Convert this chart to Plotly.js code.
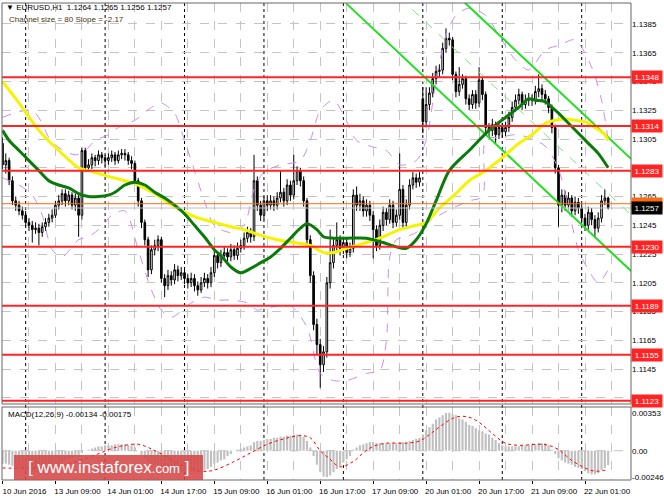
<!DOCTYPE html>
<html>
<head>
<meta charset="utf-8">
<script src="https://cdn.plot.ly/plotly-3.0.1.min.js"></script>
<style>
  html, body { margin: 0; padding: 0; background: #fff; }
  #chart { width: 664px; height: 498px; }
</style>
</head>
<body>
<div id="chart"></div>
<script>
// EURUSD H1, one entry per hourly bar: 10 Jun 17:00 .. 22 Jun 08:00
var opens = [
  1.1302,1.1287,1.1290,1.1276,1.1262,1.1259,1.1255,1.1252,1.1247,1.1245,
  1.1242,1.1243,1.1240,1.1244,1.1247,1.1250,1.1252,1.1259,1.1262,1.1267,
  1.1262,1.1266,1.1259,1.1264,1.1252,1.1297,1.1285,1.1287,1.1292,1.1290,
  1.1294,1.1292,1.1290,1.1292,1.1294,1.1290,1.1294,1.1295,1.1294,1.1290,
  1.1288,1.1276,1.1262,1.1247,1.1235,1.1214,1.1228,1.1231,1.1235,1.1208,
  1.1203,1.1210,1.1207,1.1214,1.1210,1.1212,1.1208,1.1205,1.1208,1.1203,
  1.1200,1.1205,1.1208,1.1205,1.1212,1.1224,1.1219,1.1224,1.1226,1.1223,
  1.1228,1.1224,1.1229,1.1231,1.1236,1.1240,1.1237,1.1276,1.1259,1.1252,
  1.1262,1.1259,1.1262,1.1259,1.1264,1.1268,1.1262,1.1273,1.1266,1.1276,
  1.1283,1.1276,1.1262,1.1235,1.1210,1.1176,1.1162,1.1148,1.1157,1.1205,
  1.1219,1.1231,1.1235,1.1229,1.1233,1.1226,1.1229,1.1266,1.1259,1.1262,
  1.1255,1.1259,1.1252,1.1242,1.1231,1.1245,1.1254,1.1249,1.1259,1.1247,
  1.1252,1.1270,1.1247,1.1259,1.1273,1.1278,1.1275,1.1333,1.1317,1.1329,
  1.1337,1.1347,1.1352,1.1353,1.1368,1.1375,1.1374,1.1350,1.1338,1.1343,
  1.1347,1.1333,1.1329,1.1336,1.1330,1.1346,1.1336,1.1313,1.1311,1.1315,
  1.1308,1.1313,1.1310,1.1313,1.1320,1.1327,1.1332,1.1336,1.1329,1.1332,
  1.1333,1.1332,1.1338,1.1340,1.1336,1.1333,1.1327,1.1313,1.1285,1.1259,
  1.1266,1.1259,1.1264,1.1255,1.1261,1.1257,1.1250,1.1245,1.1254,1.1249,
  1.1243,1.1250,1.1262,1.1264
];
var highs = [
  1.1306,1.1295,1.1292,1.1279,1.1265,1.1262,1.1258,1.1255,1.1250,1.1248,
  1.1247,1.1246,1.1247,1.1250,1.1253,1.1256,1.1262,1.1266,1.1270,1.1270,
  1.1269,1.1268,1.1267,1.1266,1.1299,1.1299,1.1291,1.1295,1.1294,1.1297,
  1.1296,1.1294,1.1295,1.1297,1.1296,1.1297,1.1298,1.1298,1.1296,1.1293,
  1.1290,1.1278,1.1264,1.1249,1.1237,1.1231,1.1235,1.1238,1.1237,1.1211,
  1.1214,1.1213,1.1218,1.1217,1.1216,1.1215,1.1211,1.1212,1.1211,1.1206,
  1.1209,1.1212,1.1211,1.1216,1.1228,1.1227,1.1228,1.1230,1.1229,1.1232,
  1.1231,1.1233,1.1235,1.1240,1.1244,1.1243,1.1294,1.1279,1.1262,1.1265,
  1.1266,1.1266,1.1265,1.1268,1.1283,1.1271,1.1277,1.1276,1.1294,1.1286,
  1.1285,1.1279,1.1264,1.1238,1.1213,1.1180,1.1166,1.1161,1.1209,1.1242,
  1.1236,1.1247,1.1238,1.1237,1.1236,1.1233,1.1270,1.1272,1.1267,1.1265,
  1.1263,1.1262,1.1255,1.1245,1.1249,1.1258,1.1257,1.1263,1.1262,1.1256,
  1.1295,1.1273,1.1263,1.1277,1.1282,1.1281,1.1282,1.1341,1.1341,1.1341,
  1.1351,1.1356,1.1357,1.1372,1.1382,1.1379,1.1376,1.1352,1.1355,1.1350,
  1.1349,1.1336,1.1339,1.1339,1.1355,1.1348,1.1338,1.1316,1.1319,1.1317,
  1.1316,1.1316,1.1317,1.1324,1.1331,1.1336,1.1340,1.1338,1.1336,1.1337,
  1.1336,1.1342,1.1350,1.1343,1.1339,1.1335,1.1329,1.1315,1.1287,1.1270,
  1.1269,1.1268,1.1266,1.1265,1.1264,1.1260,1.1253,1.1258,1.1257,1.1252,
  1.1254,1.1266,1.1270,1.1265
];
var lows = [
  1.1284,1.1281,1.1273,1.1259,1.1255,1.1252,1.1249,1.1244,1.1241,1.1233,
  1.1239,1.1231,1.1237,1.1241,1.1244,1.1247,1.1250,1.1256,1.1259,1.1258,
  1.1259,1.1256,1.1255,1.1237,1.1249,1.1282,1.1282,1.1284,1.1286,1.1287,
  1.1288,1.1286,1.1287,1.1289,1.1287,1.1288,1.1291,1.1290,1.1287,1.1284,
  1.1273,1.1258,1.1243,1.1231,1.1209,1.1211,1.1224,1.1227,1.1205,1.1195,
  1.1200,1.1203,1.1204,1.1206,1.1207,1.1204,1.1201,1.1202,1.1199,1.1196,
  1.1198,1.1202,1.1201,1.1202,1.1209,1.1215,1.1216,1.1221,1.1219,1.1220,
  1.1221,1.1221,1.1226,1.1228,1.1233,1.1233,1.1234,1.1255,1.1248,1.1249,
  1.1255,1.1256,1.1255,1.1256,1.1261,1.1258,1.1259,1.1262,1.1263,1.1273,
  1.1272,1.1258,1.1230,1.1205,1.1172,1.1155,1.1132,1.1143,1.1153,1.1201,
  1.1215,1.1226,1.1224,1.1225,1.1222,1.1223,1.1226,1.1255,1.1255,1.1251,
  1.1251,1.1248,1.1222,1.1227,1.1228,1.1241,1.1245,1.1246,1.1243,1.1244,
  1.1249,1.1243,1.1244,1.1256,1.1270,1.1271,1.1272,1.1309,1.1313,1.1325,
  1.1334,1.1343,1.1348,1.1350,1.1365,1.1370,1.1346,1.1334,1.1335,1.1340,
  1.1329,1.1325,1.1326,1.1326,1.1327,1.1332,1.1309,1.1306,1.1307,1.1302,
  1.1305,1.1306,1.1307,1.1310,1.1317,1.1324,1.1329,1.1325,1.1326,1.1328,
  1.1328,1.1329,1.1334,1.1332,1.1329,1.1323,1.1309,1.1281,1.1244,1.1254,
  1.1255,1.1256,1.1251,1.1252,1.1253,1.1246,1.1241,1.1242,1.1245,1.1237,
  1.1240,1.1247,1.1259,1.1256
];
var closes = [
  1.1287,1.1290,1.1276,1.1262,1.1259,1.1255,1.1252,1.1247,1.1245,1.1242,
  1.1243,1.1240,1.1244,1.1247,1.1250,1.1252,1.1259,1.1262,1.1267,1.1262,
  1.1266,1.1259,1.1264,1.1252,1.1297,1.1285,1.1287,1.1292,1.1290,1.1294,
  1.1292,1.1290,1.1292,1.1294,1.1290,1.1294,1.1295,1.1294,1.1290,1.1288,
  1.1276,1.1262,1.1247,1.1235,1.1214,1.1228,1.1231,1.1235,1.1208,1.1203,
  1.1210,1.1207,1.1214,1.1210,1.1212,1.1208,1.1205,1.1208,1.1203,1.1200,
  1.1205,1.1208,1.1205,1.1212,1.1224,1.1219,1.1224,1.1226,1.1223,1.1228,
  1.1224,1.1229,1.1231,1.1236,1.1240,1.1237,1.1276,1.1259,1.1252,1.1262,
  1.1259,1.1262,1.1259,1.1264,1.1268,1.1262,1.1273,1.1266,1.1276,1.1283,
  1.1276,1.1262,1.1235,1.1210,1.1176,1.1162,1.1148,1.1157,1.1205,1.1219,
  1.1231,1.1235,1.1229,1.1233,1.1226,1.1229,1.1266,1.1259,1.1262,1.1255,
  1.1259,1.1252,1.1242,1.1231,1.1245,1.1254,1.1249,1.1259,1.1247,1.1252,
  1.1270,1.1247,1.1259,1.1273,1.1278,1.1275,1.1278,1.1317,1.1329,1.1337,
  1.1347,1.1352,1.1353,1.1368,1.1375,1.1374,1.1350,1.1338,1.1343,1.1347,
  1.1333,1.1329,1.1336,1.1330,1.1346,1.1336,1.1313,1.1311,1.1315,1.1308,
  1.1313,1.1310,1.1313,1.1320,1.1327,1.1332,1.1336,1.1329,1.1332,1.1333,
  1.1332,1.1338,1.1340,1.1336,1.1333,1.1327,1.1313,1.1285,1.1259,1.1266,
  1.1259,1.1264,1.1255,1.1261,1.1257,1.1250,1.1245,1.1254,1.1249,1.1243,
  1.1250,1.1262,1.1264,1.1257
];

// MACD(12,26,9) main line, one per bar, and its signal read at fewer bars
var macdMain = [
  -0.0012,-0.0012,-0.0013,-0.0014,-0.0015,-0.0016,-0.0017,-0.0018,-0.0019,-0.0020,
  -0.0020,-0.0021,-0.0020,-0.0019,-0.0018,-0.0016,-0.0014,-0.0012,-0.0010,-0.0009,
  -0.0008,-0.0007,-0.0006,-0.0006,-0.0002,0.0000,0.0001,0.0002,0.0003,0.0004,
  0.0004,0.0005,0.0005,0.0005,0.0006,0.0006,0.0006,0.0006,0.0005,0.0005,
  0.0003,0.0000,-0.0004,-0.0007,-0.0011,-0.0012,-0.0013,-0.0013,-0.0016,-0.0018,
  -0.0019,-0.0020,-0.0020,-0.0020,-0.0020,-0.0020,-0.0020,-0.0020,-0.0020,-0.0020,
  -0.0019,-0.0018,-0.0017,-0.0015,-0.0012,-0.0011,-0.0009,-0.0008,-0.0005,-0.0003,
  0.0000,0.0001,0.0002,0.0003,0.0004,0.0005,0.0008,0.0009,0.0009,0.0010,
  0.0011,0.0011,0.0012,0.0012,0.0013,0.0013,0.0014,0.0014,0.0015,0.0015,
  0.0015,0.0013,0.0009,0.0003,-0.0005,-0.0013,-0.0020,-0.0024,-0.00246,-0.0023,
  -0.0020,-0.0017,-0.0014,-0.0011,-0.0008,-0.0005,0.0001,0.0003,0.0005,0.0006,
  0.0007,0.0008,0.0008,0.0007,0.0007,0.0007,0.0007,0.0007,0.0007,0.0007,
  0.0008,0.0008,0.0008,0.0009,0.0010,0.0011,0.0012,0.0015,0.0019,0.0022,
  0.0025,0.0029,0.0031,0.0033,0.0035,0.00353,0.0034,0.0033,0.0030,0.0029,
  0.0027,0.0024,0.0023,0.0021,0.0019,0.0018,0.0016,0.0015,0.0012,0.0010,
  0.0007,0.0005,0.0004,0.0004,0.0004,0.0004,0.0004,0.0005,0.0005,0.0005,
  0.0006,0.0006,0.0007,0.0007,0.0007,0.0005,0.0001,-0.0003,-0.0007,-0.0009,
  -0.0011,-0.0012,-0.0013,-0.0015,-0.0016,-0.0017,-0.0019,-0.0021,-0.0022,-0.0022,
  -0.0021,-0.0018,-0.0016,-0.00134
];
var signalBars = [0,10,20,28,33,37,41,44,48,54,60,64,70,75,80,85,90,93,96,99,102,106,109,112,116,122,126,129,132,136,139,142,145,148,152,156,162,165,168,172,176,179,183];
var signalVals = [-0.0016,-0.0016,-0.0012,-0.0004,0.0002,0.0005,0.0006,0.0003,-0.0003,-0.0013,-0.0019,-0.0018,-0.0010,-0.0002,0.0006,0.0011,0.0014,0.0012,0.0000,-0.0008,-0.0015,-0.0010,-0.0002,0.0004,0.0007,0.0007,0.0009,0.0015,0.0022,0.0030,0.0032,0.0030,0.0024,0.0016,0.0007,0.0005,0.0006,0.0005,0.0001,-0.0009,-0.0016,-0.0019,-0.00175];

// moving averages and bands, read at a subset of bars
var yellowBars = [0,5,11,17,23,26,32,37,40,46,52,58,64,69,73,78,83,88,93,97,100,104,110,115,120,125,128,132,137,141,146,151,156,160,164,167,170,173,176,179,182,183];
var yellowMA = [1.1345,1.1330,1.1311,1.1297,1.1285,1.1283,1.1279,1.1276,1.1274,1.1267,1.1258,1.1251,1.1247,1.1244,1.1242,1.1238,1.1235,1.1233,1.1231,1.1226,1.1226,1.1229,1.1233,1.1237,1.1242,1.1245,1.1247,1.1257,1.1267,1.1276,1.1283,1.1292,1.1302,1.1308,1.1316,1.1318,1.1319,1.1318,1.1317,1.1313,1.1308,1.1304];
var greenBars = [0,2,5,8,11,14,17,20,23,26,29,32,34,37,40,43,46,49,52,55,58,61,64,66,69,72,75,78,81,84,87,90,92,95,97,100,104,110,115,119,122,125,128,131,135,141,147,152,156,159,161,164,166,168,171,174,177,180,183];
var greenMA = [1.1311,1.1304,1.1297,1.1290,1.1283,1.1276,1.1273,1.1271,1.1267,1.1265,1.1265,1.1266,1.1268,1.1273,1.1275,1.1273,1.1268,1.1264,1.1259,1.1253,1.1245,1.1237,1.1228,1.1224,1.1216,1.1212,1.1215,1.1219,1.1223,1.1229,1.1236,1.1243,1.1246,1.1242,1.1237,1.1236,1.1236,1.1236,1.1233,1.1230,1.1229,1.1235,1.1246,1.1262,1.1283,1.1297,1.1311,1.1320,1.1327,1.1333,1.1332,1.1331,1.1327,1.1323,1.1316,1.1309,1.1302,1.1295,1.1285];
var upperBars = [0,5,9,12,14,17,22,25,28,32,35,40,45,48,52,54,57,61,64,69,73,76,79,84,90,93,96,100,103,107,111,116,120,125,128,131,134,137,141,146,150,155,159,164,168,173,178,181,183];
var upperBand = [1.1320,1.1324,1.1325,1.1316,1.1306,1.1299,1.1294,1.1297,1.1304,1.1308,1.1313,1.1318,1.1327,1.1330,1.1323,1.1311,1.1290,1.1262,1.1245,1.1240,1.1245,1.1270,1.1282,1.1287,1.1290,1.1304,1.1325,1.1332,1.1322,1.1304,1.1300,1.1297,1.1287,1.1290,1.1304,1.1346,1.1377,1.1391,1.1396,1.1391,1.1377,1.1360,1.1353,1.1367,1.1370,1.1374,1.1355,1.1332,1.1304];
var lowerBars = [0,5,9,12,15,18,23,26,30,33,37,41,45,48,51,57,61,65,69,74,77,79,87,92,96,100,104,110,114,116,117,119,122,125,128,132,137,141,145,146,150,155,159,164,168,172,174,177,180,183];
var lowerBand = [1.1278,1.1273,1.1266,1.1252,1.1228,1.1223,1.1235,1.1237,1.1244,1.1252,1.1255,1.1228,1.1200,1.1186,1.1181,1.1191,1.1195,1.1193,1.1193,1.1191,1.1186,1.1187,1.1189,1.1174,1.1142,1.1137,1.1137,1.1142,1.1144,1.1165,1.1223,1.1235,1.1237,1.1240,1.1246,1.1252,1.1258,1.1262,1.1265,1.1305,1.1306,1.1308,1.1306,1.1300,1.1284,1.1246,1.1228,1.1214,1.1205,1.1214];

// regression channel over the last 80 bars, extended to the right edge
var channelBars = [104, 190];
var channelUpper = [1.1477, 1.1291];
var channelMid = [1.1438, 1.1252];
var channelLower = [1.1399, 1.1213];

var levels = [1.1348, 1.1314, 1.1283, 1.1230, 1.1189, 1.1155, 1.1123];
var pivotLevel = 1.1260;
var bidLevel = 1.1257;

var tickBars = [0,16,32,48,64,80,96,112,128,144,160,176];
var tickLabels = ['10 Jun 2016','13 Jun 09:00','14 Jun 01:00','14 Jun 17:00','15 Jun 09:00','16 Jun 01:00',
  '16 Jun 17:00','17 Jun 09:00','20 Jun 01:00','20 Jun 17:00','21 Jun 09:00','22 Jun 01:00'];
var dayStarts = [7,31,55,79,103,127,151,175];

var bars = closes.map(function (c, i) { return i; });

// plot box in pixels: 2..631 wide, 3..480 tall
var FONT = 'Liberation Sans, Arial, sans-serif';
var GRID = '#c4c4c4';
var mainBottom = (480 - 404) / 477;
var macdTop = (480 - 407) / 477;
function px(x) { return (x - 2) / 629; }
function py(y) { return (480 - y) / 477; }

var candles = {
  type: 'candlestick', x: bars, open: opens, high: highs, low: lows, close: closes,
  increasing: { line: { color: '#000', width: 1 }, fillcolor: '#fff' },
  decreasing: { line: { color: '#000', width: 1 }, fillcolor: '#000' },
  whiskerwidth: 0, hoverinfo: 'skip', showlegend: false
};
function line(x, y, color, width, dash, shape) {
  return { type: 'scatter', mode: 'lines', x: x, y: y, hoverinfo: 'skip', showlegend: false,
    line: { color: color, width: width, dash: dash || 'solid', shape: shape || 'linear', smoothing: 0.8 } };
}
var data = [
  candles,
  line(upperBars, upperBand, '#c88ee8', 1, 'dash', 'spline'),
  line(lowerBars, lowerBand, '#c88ee8', 1, 'dash', 'spline'),
  line(channelBars, channelMid, '#80e080', 1, 'dash'),
  line(channelBars, channelUpper, '#1ee01e', 2),
  line(channelBars, channelLower, '#1ee01e', 2),
  line(yellowBars, yellowMA, '#f4f400', 3, 'solid', 'spline'),
  line(greenBars, greenMA, '#0a7a0a', 3, 'solid', 'spline'),
  { type: 'bar', x: bars, y: macdMain, yaxis: 'y2', marker: { color: '#c0c0c0' },
    hoverinfo: 'skip', showlegend: false },
  { type: 'scatter', mode: 'lines', x: signalBars, y: signalVals, yaxis: 'y2',
    line: { color: '#ff0000', width: 1, dash: 'dot', shape: 'spline' }, hoverinfo: 'skip', showlegend: false }
];

var shapes = [];
dayStarts.forEach(function (b) {
  shapes.push({ type: 'line', xref: 'x', yref: 'paper', x0: b, x1: b, y0: 0, y1: 1, layer: 'below',
    line: { color: '#000', width: 1, dash: 'dot' } });
});
levels.forEach(function (v) {
  shapes.push({ type: 'line', xref: 'paper', yref: 'y', x0: 0, x1: 1, y0: v, y1: v,
    line: { color: '#ff2424', width: 2 } });
});
shapes.push({ type: 'line', xref: 'paper', yref: 'y', x0: 0, x1: 1, y0: bidLevel, y1: bidLevel,
  line: { color: '#c0c0c0', width: 1 } });
shapes.push({ type: 'line', xref: 'paper', yref: 'y', x0: 0, x1: 1, y0: pivotLevel, y1: pivotLevel,
  line: { color: '#ff6a10', width: 1 } });
shapes.push({ type: 'line', xref: 'paper', yref: 'y2', x0: 0, x1: 1, y0: 0, y1: 0, layer: 'below',
  line: { color: GRID, width: 1, dash: 'dash' } });
shapes.push({ type: 'rect', xref: 'paper', yref: 'paper', x0: 0, x1: 1, y0: mainBottom, y1: 1,
  line: { color: '#666', width: 1 } });
shapes.push({ type: 'rect', xref: 'paper', yref: 'paper', x0: 0, x1: 1, y0: 0, y1: macdTop,
  line: { color: '#666', width: 1 } });
// watermark
shapes.push({ type: 'rect', xref: 'paper', yref: 'paper', x0: px(14), x1: px(203), y0: py(480), y1: py(455),
  fillcolor: 'rgba(214,72,72,0.88)', line: { width: 0 } });

var annotations = [];
function priceTag(v, bg, fg) {
  annotations.push({ xref: 'paper', yref: 'y', x: 1, y: v, xanchor: 'left', yanchor: 'middle',
    text: v.toFixed(4), showarrow: false, bgcolor: bg, width: 28, height: 10, borderpad: 1,
    font: { family: FONT, size: 8, color: fg } });
}
levels.forEach(function (v) { priceTag(v, '#ff2424', '#fff'); });
priceTag(pivotLevel, '#ff6a10', '#fff');
priceTag(bidLevel, '#000', '#fff');

function label(x, y, text, size, color) {
  annotations.push({ xref: 'paper', yref: 'paper', x: px(x), y: py(y), xanchor: 'left', yanchor: 'middle',
    text: text, showarrow: false, font: { family: FONT, size: size, color: color } });
}
label(4, 8, '\u25BC EURUSD,H1  1.1264 1.1265 1.1256 1.1257', 8, '#000');
label(7, 19, 'Channel size = 80 Slope = -2.17', 8, '#4a3510');
label(6, 414, 'MACD(12,26,9) -0.00134 -0.00175', 8, '#000');
annotations.push({ xref: 'paper', yref: 'paper', x: px(108), y: py(467.5), xanchor: 'center', yanchor: 'middle',
  text: '[ www.instaforex<span style="font-size:13px">.com</span> ]', showarrow: false,
  font: { family: FONT, size: 17, color: '#fff' } });

var layout = {
  width: 664, height: 498,
  margin: { l: 2, r: 33, t: 3, b: 18 },
  paper_bgcolor: '#fff', plot_bgcolor: '#fff',
  font: { family: FONT, size: 8, color: '#000' },
  showlegend: false, hovermode: false, bargap: 0.35,
  xaxis: {
    range: [-0.15, 189.9], anchor: 'y2', rangeslider: { visible: false },
    tickmode: 'array', tickvals: tickBars, ticktext: tickLabels, ticklabelshift: 22,
    ticks: 'outside', ticklen: 3, tickcolor: '#000', tickfont: { size: 8 },
    showgrid: true, gridcolor: GRID, griddash: 'dash', zeroline: false,
    minor: { tickmode: 'linear', tick0: 0, dtick: 8, showgrid: true, gridcolor: GRID, griddash: 'dash', ticks: '' },
    showline: false, fixedrange: true
  },
  yaxis: {
    domain: [mainBottom, 1], range: [1.11207, 1.13996], side: 'right', anchor: 'x',
    tick0: 1.1125, dtick: 0.002, tickformat: '.4f', ticks: '', tickfont: { size: 8 },
    showgrid: true, gridcolor: GRID, griddash: 'dash', zeroline: false, fixedrange: true
  },
  yaxis2: {
    domain: [0, macdTop], range: [-0.00272, 0.00406], side: 'right', anchor: 'x',
    tickmode: 'array', tickvals: [-0.00246, 0, 0.00353], ticktext: ['-0.00246', '0.00', '0.00353'],
    ticks: '', tickfont: { size: 8 }, showgrid: false, zeroline: false, fixedrange: true
  },
  shapes: shapes,
  annotations: annotations
};

Plotly.newPlot('chart', data, layout, { staticPlot: true, displayModeBar: false });
</script>
</body>
</html>
